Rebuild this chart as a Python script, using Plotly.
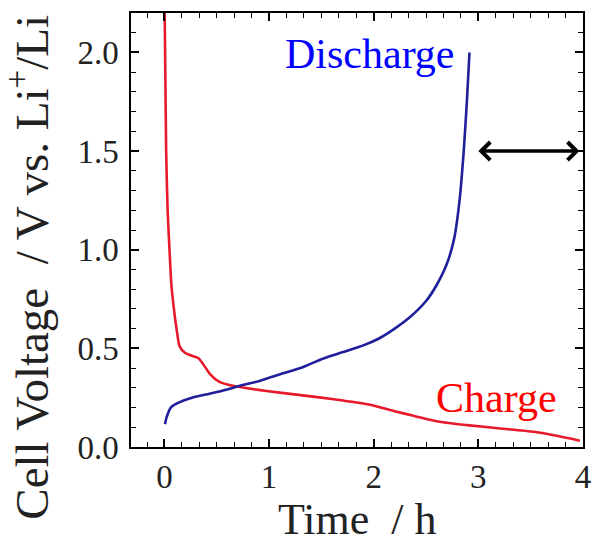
import plotly.graph_objects as go

# Discharge curve (blue)
discharge_t = [0.005, 0.02, 0.06, 0.14, 0.27, 0.43, 0.59, 0.72, 0.91, 1.10, 1.30, 1.50, 1.70, 1.90, 2.05, 2.20, 2.35, 2.50, 2.60, 2.70, 2.77, 2.82, 2.86, 2.89, 2.915]
discharge_v = [0.116, 0.15, 0.20, 0.226, 0.251, 0.27, 0.29, 0.31, 0.335, 0.368, 0.40, 0.445, 0.48, 0.515, 0.55, 0.60, 0.66, 0.74, 0.82, 0.93, 1.06, 1.25, 1.5, 1.75, 2.0]

# Charge curve (red)
charge_t = [0.0, 0.008, 0.016, 0.03, 0.048, 0.065, 0.09, 0.115, 0.145, 0.195, 0.275, 0.325, 0.37, 0.435, 0.525, 0.655, 0.815, 0.975, 1.30, 1.62, 1.94, 2.19, 2.38, 2.63, 2.89, 3.21, 3.53, 3.75, 3.97]
charge_v = [2.3, 1.9, 1.5, 1.2, 1.0, 0.83, 0.70, 0.60, 0.51, 0.478, 0.46, 0.45, 0.42, 0.37, 0.33, 0.31, 0.296, 0.284, 0.263, 0.242, 0.217, 0.183, 0.158, 0.128, 0.111, 0.094, 0.077, 0.057, 0.032]

x_ticks = [0, 1, 2, 3, 4]
y_ticks = [0.0, 0.5, 1.0, 1.5, 2.0]
y_tick_text = ["0.0", "0.5", "1.0", "1.5", "2.0"]

FONT = "Liberation Serif"

fig = go.Figure()
fig.add_trace(go.Scatter(x=charge_t, y=charge_v, mode="lines",
                         line=dict(color="#e8192a", width=2.6, shape="spline", smoothing=0.6),
                         name="Charge", showlegend=False, hoverinfo="skip"))
fig.add_trace(go.Scatter(x=discharge_t, y=discharge_v, mode="lines",
                         line=dict(color="#1f1f9c", width=2.6, shape="spline", smoothing=0.6),
                         name="Discharge", showlegend=False, hoverinfo="skip"))

axis_common = dict(
    showgrid=False, zeroline=False, showline=True, linecolor="black", linewidth=1.5,
    mirror="ticks", ticks="inside", ticklen=8, tickwidth=1.5, tickcolor="black",
    tickfont=dict(family=FONT, size=33, color="#222"), automargin=False,
)

fig.update_xaxes(range=[-0.32, 4.0], tickvals=x_ticks, ticktext=[str(v) for v in x_ticks],
                 minor=dict(dtick=1/6, tick0=0, ticks="inside", ticklen=5, tickwidth=1.2, tickcolor="black"),
                 ticklabelstandoff=0, **axis_common)
fig.update_yaxes(range=[0.0, 2.2], tickvals=y_ticks, ticktext=y_tick_text,
                 minor=dict(dtick=0.1, tick0=0, ticks="inside", ticklen=5, tickwidth=1.2, tickcolor="black"),
                 ticklabelstandoff=4, **axis_common)

fig.add_annotation(x=3.0, y=1.5, ax=3.98, ay=1.5, xref="x", yref="y", axref="x", ayref="y",
                   text="", showarrow=True, arrowhead=4, startarrowhead=4, arrowside="end+start",
                   arrowwidth=3.5, arrowsize=1.0, startarrowsize=1.0, arrowcolor="black")

fig.add_annotation(x=1.96, y=1.99, xref="x", yref="y", text="Discharge", showarrow=False,
                   font=dict(family=FONT, size=42, color="#0000ff"), xanchor="center", yanchor="middle")
fig.add_annotation(x=3.17, y=0.25, xref="x", yref="y", text="Charge", showarrow=False,
                   font=dict(family=FONT, size=42, color="#ff0000"), xanchor="center", yanchor="middle")

fig.add_annotation(x=-0.227, y=0.414, xref="paper", yref="paper",
                   text="Cell Voltage  / V vs. Li<sup>+</sup>/Li", textangle=-90, showarrow=False,
                   font=dict(family=FONT, size=47, color="#222"), xanchor="center", yanchor="middle")
fig.add_annotation(x=0.5, y=-0.168, xref="paper", yref="paper",
                   text="Time  / h", showarrow=False,
                   font=dict(family=FONT, size=44, color="#222"), xanchor="center", yanchor="middle")

fig.update_layout(width=593, height=549, autosize=False, margin=dict(l=131, r=10, t=13, b=102),
                  paper_bgcolor="white", plot_bgcolor="white", showlegend=False)

fig.write_html("out.html",
               config={"displayModeBar": False, "responsive": False},
               post_script="document.body.style.margin='0';document.body.style.padding='0';"
                           "document.body.style.overflow='hidden';document.documentElement.style.overflow='hidden';")
